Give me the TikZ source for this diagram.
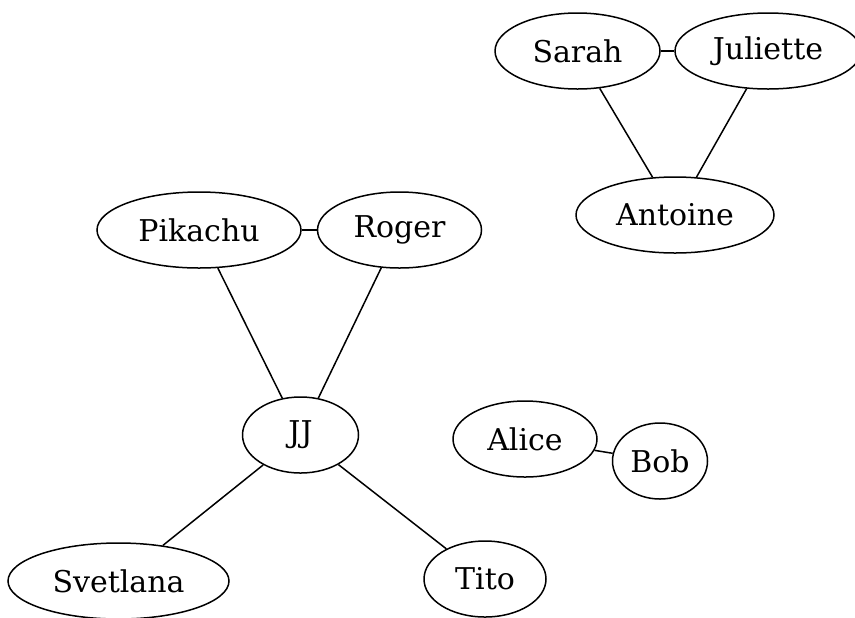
\documentclass[tikz,border=0pt]{standalone}
\usepackage{fontspec}
\setmainfont{DejaVu Serif}
\usepackage{tikz}
\usetikzlibrary{shapes.geometric}
\tikzset{
  person/.style={draw=black, ellipse, line width=0.75pt, inner sep=0pt,
    minimum height=38pt, font=\fontsize{15}{18}\selectfont},
  link/.style={draw=black, line width=0.75pt},
}

\begin{document}
\begin{tikzpicture}[x=0.5pt, y=-0.5pt]
  \useasboundingbox (0,0) rectangle (855,617);

  % first group
  \node[person, minimum width=165pt/2] (sarah) at (577.5,51) {Sarah};
  \node[person, minimum width=186pt/2] (juliette) at (768,51) {Juliette};
  \node[person, minimum width=198pt/2] (antoine) at (675,215) {Antoine};

  % second group
  \node[person, minimum width=204pt/2] (pikachu) at (199,230) {Pikachu};
  \node[person, minimum width=164pt/2] (roger) at (399.5,230) {Roger};
  \node[person, minimum width=116pt/2] (jj) at (300.5,435) {JJ};
  \node[person, minimum width=221pt/2] (svetlana) at (118.5,581) {Svetlana};
  \node[person, minimum width=122pt/2] (tito) at (485,579) {Tito};

  % third group
  \node[person, minimum width=144pt/2] (alice) at (525,439) {Alice};
  \node[person, minimum width=95pt/2] (bob) at (660,461) {Bob};

  \draw[link] (sarah) -- (juliette);
  \draw[link] (sarah) -- (antoine);
  \draw[link] (juliette) -- (antoine);

  \draw[link] (pikachu) -- (roger);
  \draw[link] (pikachu) -- (jj);
  \draw[link] (roger) -- (jj);
  \draw[link] (jj) -- (svetlana);
  \draw[link] (jj) -- (tito);

  \draw[link] (alice) -- (bob);
\end{tikzpicture}
\end{document}
